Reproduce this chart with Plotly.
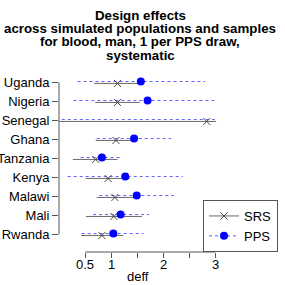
import plotly.graph_objects as go

countries = ["Uganda", "Nigeria", "Senegal", "Ghana", "Tanzania", "Kenya", "Malawi", "Mali", "Rwanda"]
srs_est = [1.12, 1.12, 2.84, 1.09, 0.70, 0.94, 1.07, 1.05, 0.82]
srs_lo = [0.67, 0.69, -0.30, 0.70, 0.26, 0.51, 0.72, 0.51, 0.42]
srs_hi = [1.57, 1.55, 3.02, 1.42, 1.12, 1.36, 1.42, 1.59, 1.23]
pps_est = [1.57, 1.70, None, 1.44, 0.82, 1.27, 1.49, 1.18, 1.04]
pps_lo = [0.35, 0.27, -0.30, 0.72, 0.41, 0.16, 0.77, 0.65, 0.43]
pps_hi = [2.81, 3.00, 3.00, 2.15, 1.22, 2.38, 2.21, 1.73, 1.62]
x_ticks = [0.5, 1, 1.5, 2, 2.5, 3]
x_tick_labels = ["0.5", "1", "", "2", "", "3"]
title_lines = ["Design effects", "across simulated populations and samples",
               "for blood, man, 1 per PPS draw,", "systematic"]

FONT = "Liberation Sans, Arial, sans-serif"
W, H = 285, 285
ML, MR, MT, MB = 59, 7, 65, 33
PH = H - MT - MB
PW = W - ML - MR

n = len(countries)
rows = list(range(n, 0, -1))
off = 0.05


def segs(lo, hi, ys):
    xs, yy = [], []
    for a, b, y in zip(lo, hi, ys):
        xs += [a, b, None]
        yy += [y, y, None]
    return xs, yy


def pts(v, ys):
    xs, yy = [], []
    for a, y in zip(v, ys):
        xs += [a, None]
        yy += [y, None]
    return xs, yy


def px_to_paper(xpx, ypx):
    return (xpx - ML) / PW, (H - MB - ypx) / PH


srs_y = [r - off for r in rows]
pps_y = [r + off for r in rows]

fig = go.Figure()
sx, sy = segs(srs_lo, srs_hi, srs_y)
fig.add_trace(go.Scatter(x=sx, y=sy, mode="lines", line=dict(color="#6a6a6a", width=1),
                         showlegend=False, legendgroup="srs", hoverinfo="skip"))
px_, py_ = segs(pps_lo, pps_hi, pps_y)
fig.add_trace(go.Scatter(x=px_, y=py_, mode="lines", line=dict(color="rgb(95,95,255)", width=1, dash="dot"),
                         showlegend=False, legendgroup="pps", hoverinfo="skip"))
ex, ey = pts(srs_est, srs_y)
fig.add_trace(go.Scatter(x=ex, y=ey, mode="lines+markers", name="SRS", legendgroup="srs",
                         line=dict(color="#6a6a6a", width=1),
                         marker=dict(symbol="x-thin", size=7, color="#444",
                                     line=dict(width=1, color="#444"))))
ex, ey = pts(pps_est, pps_y)
fig.add_trace(go.Scatter(x=ex, y=ey, mode="lines+markers", name="PPS", legendgroup="pps",
                         line=dict(color="rgb(95,95,255)", width=1, dash="dot"),
                         marker=dict(symbol="circle", size=8, color="blue")))

# axis lines spanning the tick range (R style)
fig.add_shape(type="line", xref="x", yref="paper", x0=min(x_ticks), x1=max(x_ticks), y0=0, y1=0,
              line=dict(color="#555", width=1))
fig.add_shape(type="line", xref="paper", yref="y", x0=0, x1=0, y0=min(rows), y1=max(rows),
              line=dict(color="#555", width=1))

# x tick labels placed close to the ticks, as in R
_, lab_y = px_to_paper(0, 264.5)
for tv, tl in zip(x_ticks, x_tick_labels):
    if tl:
        fig.add_annotation(text=tl, xref="x", yref="paper", x=tv, y=lab_y,
                           xanchor="center", yanchor="middle", showarrow=False,
                           font=dict(family=FONT, size=13, color="black"))

title_y_px = [15, 28.5, 42, 55.5]
for t, ypx in zip(title_lines, title_y_px):
    ax, ay = px_to_paper(140, ypx)
    fig.add_annotation(text="<b>%s</b>" % t, xref="paper", yref="paper",
                       x=ax, y=ay, xanchor="center", yanchor="middle", showarrow=False,
                       font=dict(family=FONT, size=13.3, color="black"))

ax, ay = px_to_paper(137.5, 276.5)
fig.add_annotation(text="deff", xref="paper", yref="paper", x=ax, y=ay,
                   xanchor="center", yanchor="middle", showarrow=False,
                   font=dict(family=FONT, size=13, color="black"))

fig.update_layout(
    width=W, height=H, margin=dict(l=ML, r=MR, t=MT, b=MB, autoexpand=False),
    paper_bgcolor="white", plot_bgcolor="white",
    font=dict(family=FONT, size=13, color="black"),
    xaxis=dict(range=[-0.007, 4.213], tickvals=x_ticks, showticklabels=False,
               ticks="outside", ticklen=5, tickcolor="#555", showline=False,
               showgrid=False, zeroline=False, automargin=False),
    yaxis=dict(range=[0.08, 9.92], tickvals=rows, ticktext=countries,
               ticks="outside", ticklen=6, tickcolor="#555", showline=False,
               showgrid=False, zeroline=False, automargin=False),
    legend=dict(x=1, y=0, xanchor="right", yanchor="bottom", bordercolor="#555",
                borderwidth=1, bgcolor="white", font=dict(size=13), tracegroupgap=0,
                itemwidth=30),
    showlegend=True,
)

fig.write_html("out.html", config={"displayModeBar": False},
               post_script="document.body.style.margin='0px';")
